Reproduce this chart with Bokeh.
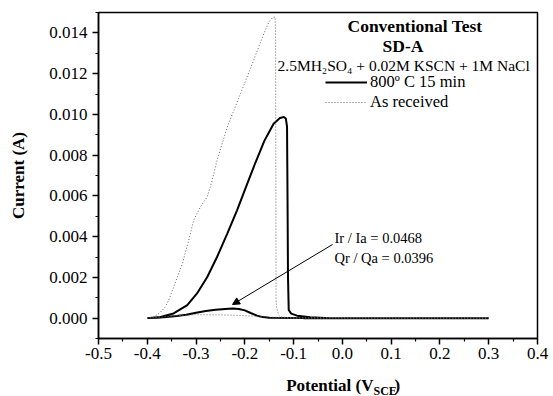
from bokeh.plotting import figure
from bokeh.layouts import row, column
from bokeh.models import (Range1d, FixedTicker, Label, Legend, LegendItem,
                          Arrow, NormalHead)
from bokeh.core.properties import value
from bokeh.embed import file_html
from bokeh.resources import INLINE

# ---------------- data ----------------
# 800 C 15 min (forward scan then reverse scan)
solid_x = [-0.400, -0.373, -0.346, -0.318, -0.298, -0.277, -0.257, -0.236, -0.216,
           -0.195, -0.178, -0.160, -0.141, -0.128, -0.120, -0.116, -0.1135, -0.1125,
           -0.1115, -0.110, -0.105, -0.093, -0.066, -0.025, 0.300,
           -0.080, -0.150, -0.163, -0.175, -0.188, -0.200, -0.212, -0.225, -0.240,
           -0.260, -0.280, -0.300, -0.320, -0.340, -0.360, -0.380, -0.400]
solid_y = [0.0, 0.00006, 0.00023, 0.00064, 0.00121, 0.00202, 0.00300, 0.00415, 0.00529,
           0.00660, 0.00765, 0.00870, 0.00954, 0.00982, 0.00987, 0.00980, 0.00940, 0.00600,
           0.00200, 0.00040, 0.00022, 0.00012, 0.00004, 0.0, 0.0,
           0.0, 0.00002, 0.00005, 0.00012, 0.00025, 0.00038, 0.00045, 0.00047, 0.00045,
           0.00041, 0.00035, 0.00026, 0.00017, 0.00010, 0.00005, 0.00002, 0.0]

# As received (forward scan then reverse scan)
dotted_x = [-0.400, -0.387, -0.375, -0.363, -0.354, -0.346, -0.337, -0.328, -0.315,
            -0.305, -0.291, -0.277, -0.267, -0.257, -0.236, -0.209, -0.182, -0.161,
            -0.151, -0.143, -0.138, -0.137, -0.136, -0.135, -0.131, -0.127, -0.110, 0.300,
            -0.100, -0.150, -0.200, -0.250, -0.300, -0.350, -0.380, -0.400]
dotted_y = [0.0, 0.00006, 0.00025, 0.00055, 0.00100, 0.00153, 0.00210, 0.00268, 0.00382,
            0.00480, 0.00546, 0.00595, 0.00676, 0.00775, 0.00938, 0.01101, 0.01265, 0.01396,
            0.01452, 0.01475, 0.01478, 0.01400, 0.00100, 0.00055, 0.00015, 0.00006, 0.00002, 0.0,
            0.0, 0.00005, 0.00012, 0.00016, 0.00017, 0.00010, 0.00004, 0.0]

series_labels = ["800\u00ba C 15 min", "As received"]

x_ticks = [-0.5, -0.4, -0.3, -0.2, -0.1, 0.0, 0.1, 0.2, 0.3, 0.4]
x_tick_labels = ["-0.5", "-0.4", "-0.3", "-0.2", "-0.1", "0.0", "0.1", "0.2", "0.3", "0.4"]
x_minor = [-0.45, -0.35, -0.25, -0.15, -0.05, 0.05, 0.15, 0.25, 0.35]
y_ticks = [0.000, 0.002, 0.004, 0.006, 0.008, 0.010, 0.012, 0.014]
y_tick_labels = ["0.000", "0.002", "0.004", "0.006", "0.008", "0.010", "0.012", "0.014"]
y_minor = [-0.001, 0.001, 0.003, 0.005, 0.007, 0.009, 0.011, 0.013, 0.015]

title_lines = ["Conventional Test", "SD-A"]
solution_text = "2.5MH\u2082SO\u2084 +  0.02M KSCN + 1M NaCl"
note_lines = ["Ir / Ia = 0.0468", "Qr / Qa = 0.0396"]
x_title_parts = ["Potential (V", "SCE", ")"]
y_title = "Current (A)"

X0, X1 = -0.5, 0.4
Y0, Y1 = -0.001, 0.015

# ---------------- layout helpers (canvas pixels) ----------------
W, H = 553, 396
LS = 30          # left strip width (y title)
BS = 26          # bottom strip height (x title)
L, R, T, B = 98, 537, 12, 338
MW, MH = W - LS, H - BS


def dx(px):
    return X0 + (px - L) / (R - L) * (X1 - X0)


def dy(py):
    return Y1 - (py - T) / (B - T) * (Y1 - Y0)


FONT = "Liberation Serif"

p = figure(width=MW, height=MH, output_backend="svg", toolbar_location=None,
           x_range=Range1d(X0, X1), y_range=Range1d(Y0, Y1))
p.min_border_left = L - LS
p.min_border_right = W - R
p.min_border_top = T
p.min_border_bottom = MH - B
p.background_fill_color = "white"
p.border_fill_color = "white"
p.outline_line_color = "black"
p.outline_line_width = 1.5
p.xgrid.visible = False
p.ygrid.visible = False

p.xaxis.ticker = FixedTicker(ticks=x_ticks, minor_ticks=x_minor)
p.yaxis.ticker = FixedTicker(ticks=y_ticks, minor_ticks=y_minor)
p.xaxis.major_label_overrides = dict(zip(x_ticks, x_tick_labels))
p.yaxis.major_label_overrides = dict(zip(y_ticks, y_tick_labels))

for ax in (p.xaxis[0], p.yaxis[0]):
    ax.axis_line_color = "black"
    ax.axis_line_width = 1.5
    ax.major_tick_line_color = "black"
    ax.major_tick_line_width = 1.5
    ax.minor_tick_line_color = "black"
    ax.minor_tick_line_width = 1.2
    ax.major_tick_in = 0
    ax.major_tick_out = 6
    ax.minor_tick_in = 0
    ax.minor_tick_out = 3
    ax.major_label_text_font = FONT
    ax.major_label_text_font_size = "17px"
    ax.major_label_text_color = "black"
p.xaxis.major_label_standoff = 3
p.yaxis.major_label_standoff = 5

r_solid = p.line(solid_x, solid_y, line_color="black", line_width=2)
r_dot = p.line(dotted_x, dotted_y, line_color="#666666", line_width=1,
               line_dash="1 2")

legend = Legend(items=[LegendItem(label=series_labels[0], renderers=[r_solid]),
                       LegendItem(label=series_labels[1], renderers=[r_dot])],
                location=(325 - L, B - 112),
                padding=0, spacing=0, margin=0,
                glyph_width=42, glyph_height=18, label_height=18,
                label_standoff=3,
                label_text_font=FONT, label_text_font_size="16.5px",
                label_text_color="black",
                border_line_color=None, background_fill_alpha=0)
p.add_layout(legend)

# title block
p.add_layout(Label(x=dx(414.5), y=dy(25), text=title_lines[0], text_align="center",
                   text_baseline="middle", text_font=FONT, text_font_style="bold",
                   text_font_size="17.5px", text_color="black"))
p.add_layout(Label(x=dx(402.5), y=dy(45), text=title_lines[1], text_align="center",
                   text_baseline="middle", text_font=FONT, text_font_style="bold",
                   text_font_size="17.5px", text_color="black"))
p.add_layout(Label(x=dx(277), y=dy(65), text=solution_text, text_align="left",
                   text_baseline="middle", text_font=FONT,
                   text_font_size="15.5px", text_color="black"))

# annotation
p.add_layout(Label(x=dx(334), y=dy(237), text=note_lines[0], text_align="left",
                   text_baseline="middle", text_font=FONT,
                   text_font_size="14.5px", text_color="black"))
p.add_layout(Label(x=dx(334), y=dy(257), text=note_lines[1], text_align="left",
                   text_baseline="middle", text_font=FONT,
                   text_font_size="14.5px", text_color="black"))
p.add_layout(Arrow(end=NormalHead(size=7, fill_color="black", line_color="black",
                                  line_width=1),
                   x_start=dx(332), y_start=dy(244), x_end=dx(232), y_end=dy(304),
                   line_color="black", line_width=1))


def strip(w, h):
    s = figure(width=w, height=h, output_backend="svg", toolbar_location=None,
               x_range=Range1d(0, w), y_range=Range1d(h, 0),
               x_axis_type=None, y_axis_type=None, min_border=0)
    s.outline_line_color = None
    s.background_fill_color = "white"
    s.border_fill_color = "white"
    s.xgrid.visible = False
    s.ygrid.visible = False
    return s


# y axis title (left strip, same height as main figure)
ls = strip(LS, MH)
ls.text(x=[18], y=[185], text=[y_title], angle=1.5708, text_align="center",
        text_baseline="middle", text_font=value(FONT), text_font_style="bold",
        text_font_size="17px", text_color="black")

# x axis title with subscript (bottom strip, full width)
bs = strip(W, BS)
oy = MH
bs.text(x=[373], y=[385 - oy], text=[x_title_parts[0]], text_align="right",
        text_baseline="alphabetic", text_font=value(FONT), text_font_style="bold",
        text_font_size="17px", text_color="black")
bs.text(x=[373], y=[390 - oy], text=[x_title_parts[1]], text_align="left",
        text_baseline="alphabetic", text_font=value(FONT), text_font_style="bold",
        text_font_size="12px", text_color="black")
bs.text(x=[394], y=[385 - oy], text=[x_title_parts[2]], text_align="left",
        text_baseline="alphabetic", text_font=value(FONT), text_font_style="bold",
        text_font_size="17px", text_color="black")

layout = column(row(ls, p, spacing=0), bs, spacing=0)

open("out.html", "w").write(file_html(layout, INLINE))
